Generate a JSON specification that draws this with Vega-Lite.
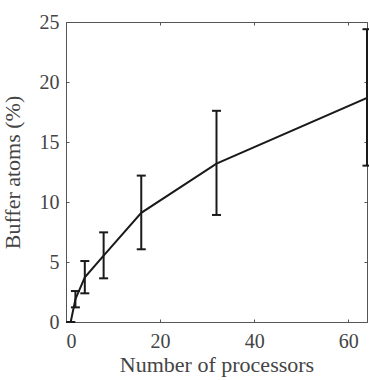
{
  "$schema": "https://vega.github.io/schema/vega-lite/v6.json",
  "autosize": {"type": "none"},
  "padding": {"left": 66, "top": 22, "right": 2, "bottom": 58},
  "width": 301,
  "height": 300,
  "background": "white",
  "config": {
    "view": {"stroke": "#555555", "strokeWidth": 1},
    "font": "Liberation Serif",
    "axis": {
      "grid": false,
      "domainColor": "#555555",
      "tickColor": "#555555",
      "tickSize": -3,
      "labelFont": "Liberation Serif",
      "titleFont": "Liberation Serif",
      "labelFontSize": 20,
      "titleFontSize": 22,
      "labelColor": "#444444",
      "titleColor": "#444444",
      "titleFontWeight": "normal"
    }
  },
  "data": {
    "values": [
      {"n": 1, "mean": 0.0, "lo": 0.0, "hi": 0.0},
      {"n": 2, "mean": 1.9, "lo": 1.22, "hi": 2.58},
      {"n": 4, "mean": 3.72, "lo": 2.39, "hi": 5.08},
      {"n": 8, "mean": 5.53, "lo": 3.64, "hi": 7.47},
      {"n": 16, "mean": 9.1, "lo": 6.06, "hi": 12.2},
      {"n": 32, "mean": 13.2, "lo": 8.92, "hi": 17.6},
      {"n": 64, "mean": 18.67, "lo": 13.03, "hi": 24.4}
    ]
  },
  "layer": [
    {
      "mark": {"type": "line", "color": "#1a1a1a", "strokeWidth": 2, "clip": true},
      "encoding": {
        "x": {"field": "n", "type": "quantitative", "title": "Number of processors",
              "scale": {"domain": [0, 64], "nice": false, "zero": false},
              "axis": {"values": [0, 20, 40, 60], "labelPadding": 12, "titlePadding": 3}},
        "y": {"field": "mean", "type": "quantitative", "title": "Buffer atoms (%)",
              "scale": {"domain": [0, 25], "nice": false},
              "axis": {"values": [0, 5, 10, 15, 20, 25], "labelPadding": 10, "titlePadding": 15}}
      }
    },
    {
      "mark": {"type": "rule", "color": "#1a1a1a", "strokeWidth": 2},
      "encoding": {
        "x": {"field": "n", "type": "quantitative",
              "axis": {"orient": "top", "values": [0, 20, 40, 60], "labels": false, "title": null, "domain": false}},
        "y": {"field": "lo", "type": "quantitative",
              "axis": {"orient": "right", "values": [0, 5, 10, 15, 20, 25], "labels": false, "title": null, "domain": false}},
        "y2": {"field": "hi"}
      }
    },
    {
      "mark": {"type": "tick", "orient": "horizontal", "color": "#1a1a1a", "size": 9, "thickness": 2, "opacity": 1},
      "encoding": {
        "x": {"field": "n", "type": "quantitative", "axis": null},
        "y": {"field": "lo", "type": "quantitative", "axis": null}
      }
    },
    {
      "mark": {"type": "tick", "orient": "horizontal", "color": "#1a1a1a", "size": 9, "thickness": 2, "opacity": 1},
      "encoding": {
        "x": {"field": "n", "type": "quantitative", "axis": null},
        "y": {"field": "hi", "type": "quantitative", "axis": null}
      }
    }
  ],
  "resolve": {"axis": {"x": "independent", "y": "independent"}}
}
